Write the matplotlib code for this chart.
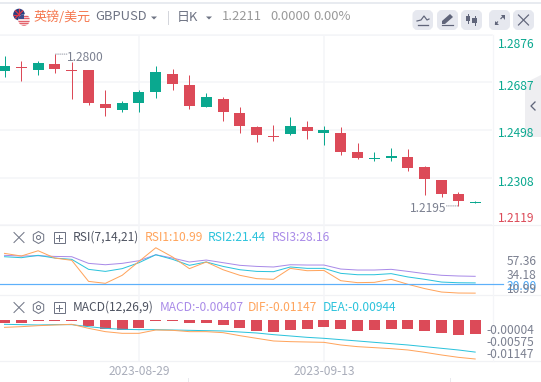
import matplotlib
matplotlib.use('Agg')
import matplotlib.pyplot as plt
from matplotlib.patches import FancyBboxPatch, Circle, Polygon, RegularPolygon, Rectangle
from matplotlib.transforms import ScaledTranslation

plt.rcParams['font.family'] = ['Noto Sans CJK SC', 'DejaVu Sans']

# ---------- data ----------
opens  = [1.2732,1.2748,1.2736,1.2760,1.2736,1.2736,1.2600,1.2576,1.2604,1.2648,1.2720,1.2676,1.2588,1.2620,1.2565,1.2509,
          1.2473,1.2481,1.2509,1.2485,1.2485,1.2409,1.2381,1.2385,1.2389,1.2349,1.2297,1.2241,1.2208]
highs  = [1.2792,1.2772,1.2772,1.2800,1.2768,1.2736,1.2656,1.2612,1.2656,1.2752,1.2740,1.2716,1.2644,1.2628,1.2588,1.2513,
          1.2517,1.2549,1.2533,1.2513,1.2509,1.2445,1.2409,1.2425,1.2421,1.2353,1.2297,1.2249,1.2213]
lows   = [1.2708,1.2692,1.2716,1.2724,1.2620,1.2596,1.2553,1.2568,1.2568,1.2624,1.2656,1.2580,1.2588,1.2533,1.2485,1.2449,
          1.2453,1.2477,1.2461,1.2437,1.2397,1.2381,1.2373,1.2373,1.2333,1.2237,1.2229,1.2195,1.2205]
closes = [1.2752,1.2745,1.2764,1.2740,1.2732,1.2604,1.2584,1.2604,1.2648,1.2728,1.2680,1.2592,1.2628,1.2568,1.2513,1.2477,
          1.2470,1.2513,1.2493,1.2497,1.2409,1.2385,1.2385,1.2393,1.2345,1.2301,1.2241,1.2213,1.2211]
rsi1 = [51.6,48.9,54.3,46.8,44.5,23.0,21.0,29.2,43.4,57.36,47.9,36.0,42.8,34.9,29.2,25.8,25.1,36.3,33.9,34.2,23.7,21.7,22.0,25.1,20.0,15.6,12.1,11.1,10.99]
rsi2 = [48.2,47.2,49.6,46.8,45.5,35.3,33.2,36.0,42.1,50.2,45.5,39.4,42.8,38.3,34.9,33.2,32.9,37.7,36.3,36.3,31.2,29.8,29.8,30.9,27.5,25.1,22.3,21.6,21.44]
rsi3 = [49.6,48.9,49.2,48.5,48.2,41.4,40.0,41.4,44.1,50.2,46.8,42.8,44.8,42.1,39.4,38.3,37.7,40.0,39.7,39.7,35.6,34.6,34.6,35.3,33.2,30.9,29.2,28.5,28.16]
rsi_level = 20.0
macd = [-.00098,-.00078,-.00029,-.00020,-.00020,-.00176,-.00265,-.00294,-.00235,-.00039,-.00020,-.00088,-.00088,-.00147,-.00235,
        -.00314,-.00353,-.00284,-.00265,-.00206,-.00265,-.00323,-.00294,-.00265,-.00265,-.00323,-.00382,-.00441,-.00407]
dif = [-.00216,-.00196,-.00167,-.00147,-.00127,-.00245,-.00343,-.00392,-.00392,-.00294,-.00304,-.00343,-.00343,-.00372,-.00461,
       -.00539,-.00617,-.00637,-.00647,-.00657,-.00735,-.00784,-.00813,-.00843,-.00882,-.00951,-.01029,-.01098,-.01147]
dea = [-.00127,-.00137,-.00147,-.00137,-.00137,-.00196,-.00245,-.00274,-.00284,-.00284,-.00294,-.00304,-.00314,-.00323,-.00353,
       -.00382,-.00431,-.00470,-.00510,-.00539,-.00578,-.00617,-.00657,-.00696,-.00735,-.00784,-.00833,-.00882,-.00944]
price_ticks = [1.2876,1.2687,1.2498,1.2308,1.2119]
rsi_ticks = [57.36,34.18,20.00,10.99]
macd_ticks = [-0.00004,-0.00575,-0.01147]
date_idx = [8,19]
date_labels = ['2023-08-29','2023-09-13']

# ---------- style ----------
W,H = 541,382
GREEN,RED = '#0aa88f','#dc4a58'
GRID = '#f4f5f8'
GRAY = '#7b8090'
ORANGE,CYAN,PURPLE = '#ffa45c','#2cc3dc','#a98be8'
PX = 0.72

fig = plt.figure(figsize=(W/100,H/100),dpi=100,facecolor='white')
def panel(top,bottom):
    a = fig.add_axes([0,1-bottom/H,492/W,(bottom-top)/H],facecolor='none',zorder=2)
    a.set_xlim(-0.268,29.0)
    for s in a.spines.values(): s.set_visible(False)
    a.set_axisbelow(True)
    a.yaxis.tick_right()
    a.set_xticks(date_idx)
    a.grid(True,color=GRID,lw=1.5*PX)
    a.tick_params(length=0)
    a.set_xticklabels([])
    return a
def shift(a,ticks,labels,offsets,colors,pad):
    a.set_yticks(ticks)
    a.set_yticklabels(labels,fontsize=12*PX)
    a.tick_params(axis='y',pad=pad*PX)
    for lab,dy,c in zip(a.get_yticklabels(),offsets,colors):
        lab.set_color(c)
        lab.set_transform(lab.get_transform()+ScaledTranslation(0,-dy*PX/72,fig.dpi_scale_trans))

# chrome layers
bg = fig.add_axes([0,0,1,1],zorder=1)
bg.set_xlim(0,W); bg.set_ylim(H,0); bg.axis('off')
fg = fig.add_axes([0,0,1,1],zorder=3,facecolor='none')
fg.set_xlim(0,W); fg.set_ylim(H,0); fg.axis('off')
bg.plot([0,W],[2.5,2.5],color='#e8ebf0',lw=2*PX)
bg.plot([0,492],[34.5,34.5],color='#f4f5f8',lw=1.5*PX)
for y in (225.3,295.3,361):
    bg.plot([0,W],[y,y],color='#f1f2f5',lw=1.2*PX)
bg.plot([492.5,492.5],[35,361],color='#f4f5f8',lw=1.2*PX)
bg.plot([449.5,449.5],[378,382],color='#e8e9ee',lw=1*PX)
bg.plot([187.5,187.5],[378,382],color='#e8e9ee',lw=1*PX)
# flag
c1 = Circle((19,14.5),5.8,fc='#2b3f80',ec='none',zorder=3); bg.add_patch(c1)
for (xs,ys) in (([13,25],[14.5,14.5]),([19,19],[9,20]),([15,23],[10.5,18.5]),([15,23],[18.5,10.5])):
    l, = bg.plot(xs,ys,color='#e23a48',lw=1.2*PX,zorder=3); l.set_clip_path(c1)
c2 = Circle((24,20),5.8,fc='white',ec='none',zorder=4); bg.add_patch(c2)
for y in (15.5,18,20.5,23,25):
    l, = bg.plot([18,30],[y,y],color='#e3626c',lw=1.4*PX,zorder=4); l.set_clip_path(c2)
r = Rectangle((18,14),6,5,fc='#3d4f8f',ec='none',zorder=4); bg.add_patch(r); r.set_clip_path(c2)
# header
def T(x,y,s,c,size=12,**k):
    fg.text(x,y,s,color=c,fontsize=size*PX,va='center',ha='left',**k)
T(33.5,17,'英镑/美元','#f5784f',13)
T(95,17,'GBPUSD','#6f7484',13)
bg.add_patch(Polygon([[151,16.5],[157,16.5],[154,19.5]],fc='#6f7484',ec='none'))
bg.plot([167.5,167.5],[11,23.5],color='#d4d6dc',lw=1*PX)
T(177,17,'日K','#6f7484',13)
bg.add_patch(Polygon([[206,16.5],[212,16.5],[209,19.5]],fc='#6f7484',ec='none'))
T(222,17,'1.2211','#9a9a9a',13,fontweight='medium')
T(270,17,'0.0000','#9a9a9a',13)
T(313,17,'0.00%','#9a9a9a',13)
ICON='#60657a'
for x0,x1 in ((412.5,433),(437,458),(461,482),(489,510),(513,534)):
    bg.add_patch(FancyBboxPatch((x0+2,12),x1-x0-4,16,boxstyle='round,pad=0,rounding_size=3',mutation_aspect=1,
                                fc='#e6e8ef',ec='#e6e8ef',lw=4*PX))
# icon 1: line
bg.plot([417,421,424,427,429],[21,20,16,20,19],color=ICON,lw=1.2*PX)
bg.plot([418,428],[24.5,24.5],color=ICON,lw=1.3*PX)
# icon 2: pen
bg.add_patch(Polygon([[442,21],[450,14],[453,17],[445,24],[442,24]],fc=ICON,ec='none'))
bg.plot([442,453],[25,25],color=ICON,lw=1.2*PX)
# icon 3: candles
for xc,a_,b_,c_,d_ in ((468,14,23,16,21),(474.5,16,25,18,23)):
    bg.plot([xc,xc],[a_,b_],color=ICON,lw=1*PX)
    bg.add_patch(Rectangle((xc-2.2,c_),4.4,d_-c_,fc=ICON,ec='none'))
# icon 4: expand
bg.plot([495,504],[24.5,15.5],color=ICON,lw=1.2*PX,ls=(0,(3.5,3)))
bg.add_patch(Polygon([[500.5,15],[505,15],[505,19.5]],fc=ICON,ec='none'))
bg.add_patch(Polygon([[494.5,20.5],[494.5,25],[499,25]],fc=ICON,ec='none'))
# icon 5: close
bg.plot([518.5,528.5],[15,25],color=ICON,lw=1.2*PX)
bg.plot([518.5,528.5],[25,15],color=ICON,lw=1.2*PX)
# side handle
bg.add_patch(Polygon([[525,83],[541,75],[541,137],[525,137]],fc='#eeeef1',ec='none'))
bg.plot([535,531,535],[102,106,110],color=ICON,lw=1.3*PX)
# panel headers
def tools(y):
    bg.plot([14,24],[y-5,y+5],color='#6f7484',lw=1*PX)
    bg.plot([14,24],[y+5,y-5],color='#6f7484',lw=1*PX)
    bg.add_patch(RegularPolygon((38.5,y),6,radius=6,fc='none',ec='#6f7484',lw=1*PX))
    bg.add_patch(Circle((38.5,y),2,fc='none',ec='#6f7484',lw=1*PX))
    bg.add_patch(Rectangle((53.5,y-5.5),11,11,fc='none',ec='#6f7484',lw=1*PX))
    bg.plot([59,59],[y-3,y+3],color='#6f7484',lw=1*PX)
    bg.plot([56,62],[y,y],color='#6f7484',lw=1*PX)
tools(237.5)
T(73,237.5,'RSI(7,14,21)','#4d5260')
T(144.5,237.5,'RSI1:10.99',ORANGE)
T(208,237.5,'RSI2:21.44',CYAN)
T(271.5,237.5,'RSI3:28.16',PURPLE)
tools(307.5)
T(73,307.5,'MACD(12,26,9)','#4d5260')
T(160,307.5,'MACD:-0.00407',PURPLE)
T(248,307.5,'DIF:-0.01147',ORANGE)
T(323,307.5,'DEA:-0.00944',CYAN)

x = list(range(len(closes)))
# ---------- candles ----------
ax = panel(35,225)
ax.set_ylim(1.2119,1.2876)
cols = [GREEN if c>=o else RED for o,c in zip(opens,closes)]
ax.vlines(x,lows,highs,colors=cols,lw=1*PX)
ax.bar(x,[abs(c-o) for o,c in zip(opens,closes)],bottom=[min(o,c) for o,c in zip(opens,closes)],
       width=0.655,color=cols,lw=0)
shift(ax,price_ticks,['%.4f'%v for v in price_ticks],[8.5,2.6,2.5,3,-7.7],[GREEN]*4+[RED],6)
DOT = dict(arrowstyle='-',ls=':',color=GRAY,lw=0.8*PX,shrinkA=0,shrinkB=0)
ax.annotate('',xy=(3,1.2800),xytext=(12,0),textcoords='offset pixels',arrowprops=DOT)
ax.annotate('1.2800',xy=(3,1.2800),xytext=(12,-3),textcoords='offset pixels',color=GRAY,fontsize=12*PX,va='center',ha='left')
ax.annotate('',xy=(27,1.2195),xytext=(-12,0),textcoords='offset pixels',arrowprops=DOT)
ax.annotate('1.2195',xy=(27,1.2195),xytext=(-12,-3),textcoords='offset pixels',color=GRAY,fontsize=12*PX,va='center',ha='right')

# ---------- RSI ----------
axr = panel(225,295)
axr.set_ylim(9.08,80.6)
axr.plot(x,rsi3,color=PURPLE,lw=1*PX)
axr.plot(x,rsi2,color=CYAN,lw=1*PX)
axr.plot(x,rsi1,color=ORANGE,lw=1*PX)
axr.axhline(rsi_level,xmax=503/492,color='#5db0fa',lw=1.2*PX,clip_on=False)
shift(axr,rsi_ticks,['%.2f'%v for v in rsi_ticks],[12,3.3,1,-5],[GRAY,GRAY,'#4aa6f5',GRAY],14.7)
axr.yaxis.grid(False)

# ---------- MACD ----------
axm = panel(295,361)
axm.set_ylim(-0.01206,0.00735)
axm.bar(x,macd,width=0.655,color=RED,lw=0)
axm.plot(x,dea,color=CYAN,lw=1*PX)
axm.plot(x,dif,color=ORANGE,lw=1*PX)
shift(axm,macd_ticks,['%.5f'%v for v in macd_ticks],[9,1,-6],[GRAY]*3,-5.5)
axm.yaxis.grid(False)
axm.set_xticklabels(date_labels,fontsize=12*PX,color='#a9adba')
axm.tick_params(axis='x',pad=3)

fig.savefig('out.png',dpi=100)
